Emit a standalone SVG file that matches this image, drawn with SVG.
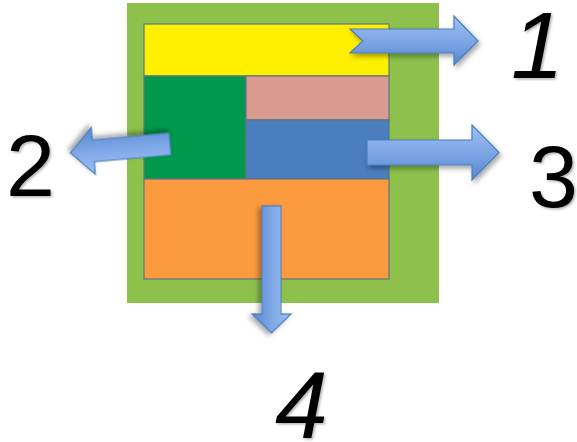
<svg xmlns="http://www.w3.org/2000/svg" width="577" height="442" viewBox="0 0 577 442">
  <defs>
    <linearGradient id="arrowFill" x1="0" y1="0" x2="0" y2="1">
      <stop offset="0" stop-color="#9ec0f4"/>
      <stop offset="0.5" stop-color="#7ea7e6"/>
      <stop offset="1" stop-color="#5686cf"/>
    </linearGradient>
    <filter id="shadow" x="-20%" y="-20%" width="150%" height="150%">
      <feDropShadow dx="2" dy="3" stdDeviation="2.5" flood-color="#000" flood-opacity="0.35"/>
    </filter>
    <filter id="textShadow" x="-20%" y="-20%" width="150%" height="150%">
      <feDropShadow dx="1.5" dy="1.5" stdDeviation="1.2" flood-color="#000" flood-opacity="0.3"/>
    </filter>
  </defs>
  <style>
    .cell { stroke: #5e7583; stroke-width: 1.2; }
    .arrow { fill: url(#arrowFill); stroke: #4a7ebb; stroke-width: 1.2; stroke-linejoin: miter; filter: url(#shadow); }
    .num { font-family: "Liberation Sans", Arial, sans-serif; fill: #000; filter: url(#textShadow); }
  </style>

  <rect width="577" height="442" fill="#ffffff"/>

  <!-- outer frame -->
  <g id="frame">
    <rect x="127" y="3" width="312" height="300" fill="#8dc14b"/>
  </g>

  <!-- layout regions -->
  <g id="header">
    <rect class="cell" x="144" y="24" width="245" height="52" fill="#fff000"/>
  </g>
  <g id="sidebar">
    <rect class="cell" x="144" y="76" width="102" height="103" fill="#00984a"/>
  </g>
  <g id="top-panel">
    <rect class="cell" x="246" y="76" width="143" height="44" fill="#da9a90"/>
  </g>
  <g id="main-panel">
    <rect class="cell" x="246" y="120" width="143" height="59" fill="#4a7ebf"/>
  </g>
  <g id="footer">
    <rect class="cell" x="144" y="179" width="245" height="100" fill="#fc9a40"/>
  </g>

  <!-- arrows -->
  <g id="connectors">
    <!-- 1: notched arrow from header -->
    <polygon class="arrow" points="350,29 454,29 454,16 478,41 454,65 454,53 350,53 363,41"/>
    <!-- 2: arrow from sidebar, leaning slightly -->
    <g transform="translate(170,144) rotate(174.9)">
      <polygon class="arrow" points="0,-11 77,-11 77,-23.5 100,0 77,23.5 77,11 0,11"/>
    </g>
    <!-- 3: arrow from main panel -->
    <polygon class="arrow" points="367,140 472,140 472,125 499,152.5 472,180 472,165 367,165"/>
    <!-- 4: arrow from footer -->
    <g transform="translate(271.5,206) rotate(90)">
      <polygon class="arrow" points="0,-9.5 108,-9.5 108,-19.5 127,0 108,19.5 108,9.5 0,9.5"/>
    </g>
  </g>

  <!-- labels -->
  <g id="labels">
    <text class="num" x="511" y="78" font-size="95" font-style="italic">1</text>
    <text class="num" x="6" y="196" font-size="88">2</text>
    <text class="num" x="529" y="207" font-size="88">3</text>
    <text class="num" x="275" y="438" font-size="95" font-style="italic">4</text>
  </g>
</svg>
